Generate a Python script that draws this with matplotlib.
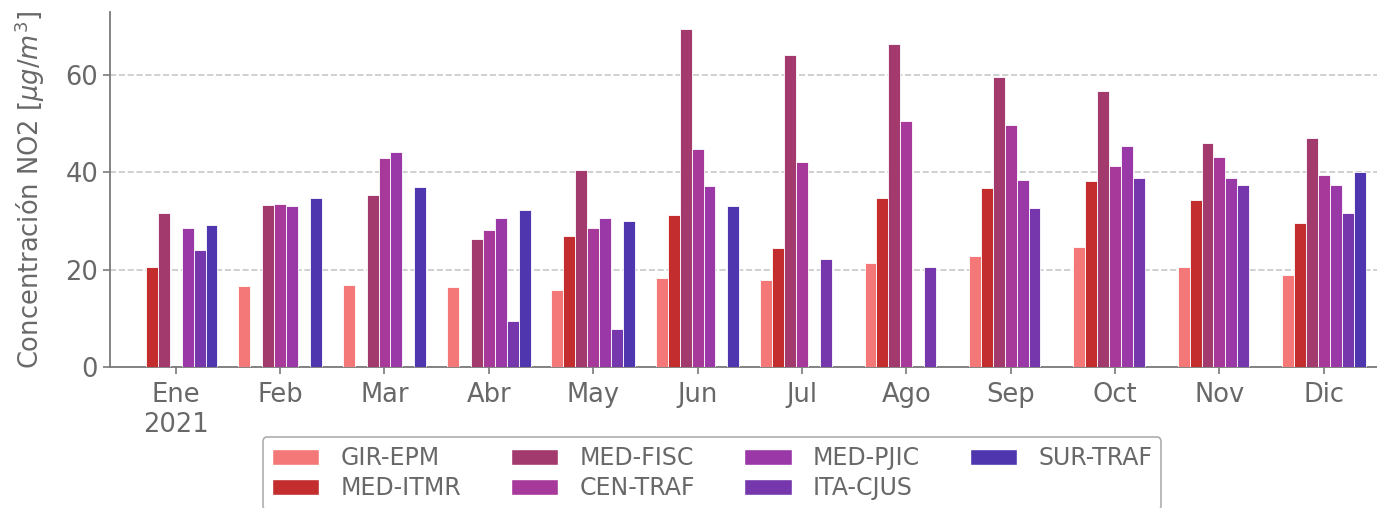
import numpy as np
import matplotlib.pyplot as plt
from matplotlib.patches import Patch

nan = np.nan

months = ["Ene\n2021", "Feb", "Mar", "Abr", "May", "Jun",
          "Jul", "Ago", "Sep", "Oct", "Nov", "Dic"]

stations = ["GIR-EPM", "MED-ITMR", "MED-FISC", "CEN-TRAF",
            "MED-PJIC", "ITA-CJUS", "SUR-TRAF"]

gir_epm = [nan, 16.6, 16.8, 16.4, 15.9, 18.2, 17.9, 21.4, 22.8, 24.7, 20.5, 18.9]
med_itmr = [20.5, nan, nan, nan, 27.0, 31.2, 24.4, 34.7, 36.8, 38.2, 34.3, 29.6]
med_fisc = [31.6, 33.2, 35.3, 26.3, 40.4, 69.4, 64.1, 66.3, 59.5, 56.7, 46.1, 47.0]
cen_traf = [nan, 33.4, 42.9, 28.1, 28.5, 44.8, 42.0, 50.5, 49.6, 41.2, 43.2, 39.4]
med_pjic = [28.6, 33.0, 44.1, 30.7, 30.6, 37.1, nan, nan, 38.3, 45.3, 38.8, 37.3]
ita_cjus = [24.0, nan, nan, 9.4, 7.8, nan, 22.2, 20.5, 32.6, 38.9, 37.3, 31.6]
sur_traf = [29.2, 34.8, 36.9, 32.2, 30.0, 33.1, nan, nan, nan, nan, nan, 40.1]

series = [gir_epm, med_itmr, med_fisc, cen_traf, med_pjic, ita_cjus, sur_traf]
colors = ["#f47878", "#c42d2d", "#a33a6e", "#a7399a",
          "#9a38a8", "#7537ab", "#4f36ae"]

TEXT_GRAY = "#686868"
plt.rcParams["font.family"] = "DejaVu Sans"
plt.rcParams["font.size"] = 18

fig = plt.figure(figsize=(13.77, 5.08), dpi=100)
ax = fig.add_axes([110 / 1377, 141 / 508, 1267 / 1377, 355 / 508])

x = np.arange(len(months))
width = 0.8 / len(series)

for i, (name, vals) in enumerate(zip(stations, series)):
    offset = (i - 3) * width
    ax.bar(x + offset, vals, width, color=colors[i], edgecolor="white",
           linewidth=0.6, label=name, zorder=3)

ax.set_xlim(-0.63, 11.51)
ax.set_ylim(0, 72.9)
ax.set_yticks([0, 20, 40, 60])
ax.set_xticks(x, months)

ax.grid(axis="y", linestyle="--", color="#c8c8c8", linewidth=1.2, zorder=0)
ax.spines["top"].set_visible(False)
ax.spines["right"].set_visible(False)
for s in ["left", "bottom"]:
    ax.spines[s].set_color("#7a7a7a")
    ax.spines[s].set_linewidth(1.3)
ax.tick_params(colors="#7a7a7a", labelcolor=TEXT_GRAY, labelsize=18.5,
               length=5, width=1.2)
ax.tick_params(axis="x", pad=6)

ax.set_ylabel("Concentración NO2 [$\\mu g/m^3$]", color=TEXT_GRAY,
              fontsize=18.5, labelpad=13)

handles = [Patch(facecolor=c, edgecolor="white", label=n) for c, n in zip(colors, stations)]
leg = fig.legend(handles=handles, loc="upper center",
                 bbox_to_anchor=(712 / 1377, 71 / 508), ncols=4,
                 fontsize=17, frameon=True, handlelength=2.0,
                 handletextpad=0.9, columnspacing=2.1, labelspacing=0.25,
                 borderaxespad=0.0)
leg.get_frame().set_edgecolor("#999999")
leg.get_frame().set_linewidth(1.2)
for t in leg.get_texts():
    t.set_color(TEXT_GRAY)

fig.savefig("out.png", dpi=100)
